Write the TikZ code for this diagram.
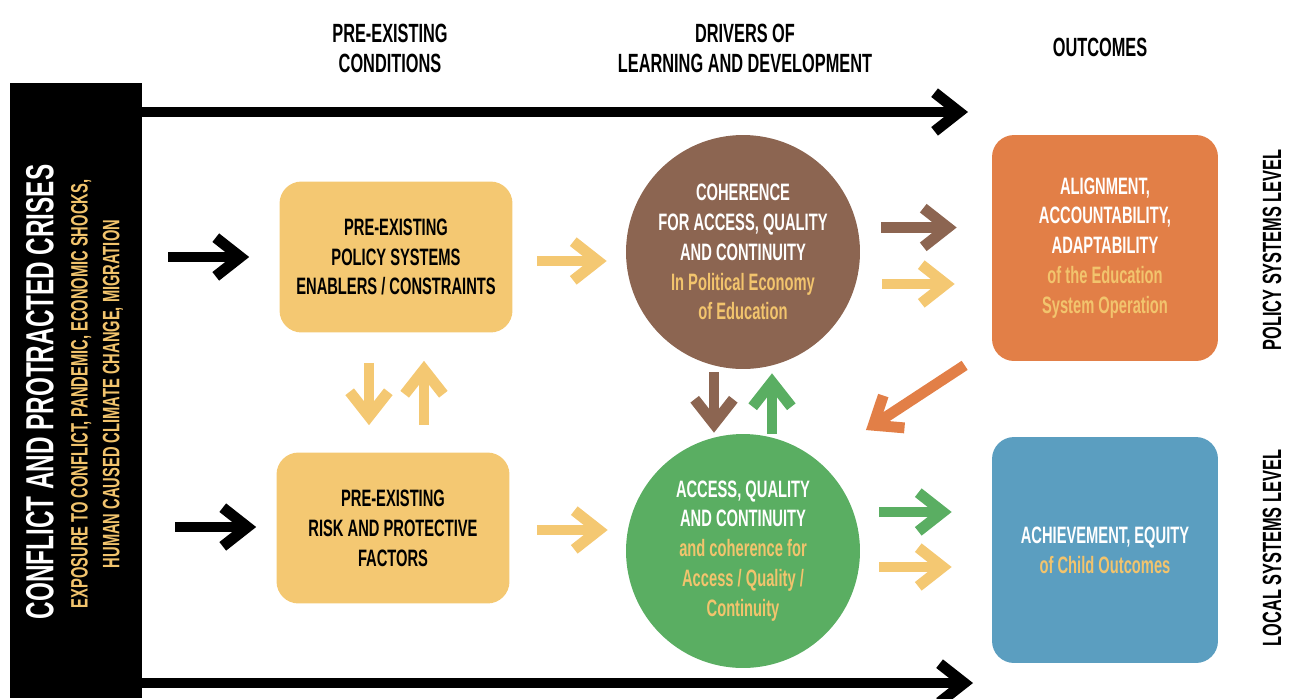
\documentclass[tikz,border=0pt]{standalone}
\usepackage{fontspec}
\setmainfont{Liberation Sans}[FakeStretch=0.62]
\usepackage{tikz}
\usetikzlibrary{arrows.meta}

\definecolor{sandc}{HTML}{F4C872}
\definecolor{goldc}{HTML}{F2C46D}
\definecolor{brownc}{HTML}{8C6551}
\definecolor{greenc}{HTML}{5AAE62}
\definecolor{orangec}{HTML}{E27F47}
\definecolor{bluec}{HTML}{5B9EC0}

\begin{document}
\begin{tikzpicture}[x=0.02cm,y=-0.02cm,
  pre box/.style={rectangle,rounded corners=0.44cm,fill=sandc,inner sep=0pt,
    minimum width=4.66cm,minimum height=3.02cm,align=center,
    font=\fontsize{13.5}{17}\selectfont\bfseries},
  driver/.style={circle,inner sep=0pt,minimum size=4.68cm,align=center,text=white,
    font=\fontsize{13.5}{17}\selectfont\bfseries},
  outcome/.style={rectangle,rounded corners=0.44cm,inner sep=0pt,
    minimum width=4.52cm,minimum height=4.52cm,align=center,text=white,
    font=\fontsize{13.5}{17}\selectfont\bfseries},
  header/.style={align=center,font=\fontsize{15}{17}\selectfont\bfseries},
  level/.style={rotate=90,font=\fontsize{15}{17}\selectfont\bfseries},
  arr/.style={line width=6.2pt,-{Straight Barb[length=14pt,width=22pt]}}]

  \useasboundingbox (0,0) rectangle (1292,698);

  % left bar
  \node[fill=black,inner sep=0pt,minimum width=2.64cm,minimum height=12.3cm]
    (crises) at (76,390.5) {};
  \node[rotate=90,text=white,font=\fontsize{22.3}{26}\selectfont\bfseries]
    (title) at (40,392) {CONFLICT AND PROTRACTED CRISES};
  \node[rotate=90,text=goldc,align=center,font=\fontsize{13.5}{18}\selectfont\bfseries]
    (exposure) at (97,394) {EXPOSURE TO CONFLICT, PANDEMIC, ECONOMIC SHOCKS,\\
    HUMAN CAUSED CLIMATE CHANGE, MIGRATION};

  % column headers
  \node[header] (hpre) at (390,48) {PRE-EXISTING\\CONDITIONS};
  \node[header] (hdrv) at (745,48) {DRIVERS OF\\LEARNING AND DEVELOPMENT};
  \node[header] (hout) at (1100,47) {OUTCOMES};

  % boxes and circles
  \node[pre box] (policy) at (396,257) {PRE-EXISTING\\POLICY SYSTEMS\\ENABLERS / CONSTRAINTS};
  \node[pre box] (risk) at (393,528) {PRE-EXISTING\\RISK AND PROTECTIVE\\FACTORS};
  \node[driver,fill=brownc] (coherence) at (743,252)
    {COHERENCE\\FOR ACCESS, QUALITY\\AND CONTINUITY\\
     \textcolor{goldc}{In Political Economy}\\\textcolor{goldc}{of Education}};
  \node[driver,fill=greenc] (access) at (743,551)
    {ACCESS, QUALITY\\AND CONTINUITY\\\textcolor{goldc}{and coherence for}\\
     \textcolor{goldc}{Access / Quality /}\\\textcolor{goldc}{Continuity}};
  \node[outcome,fill=orangec] (align) at (1105,248)
    {ALIGNMENT,\\ACCOUNTABILITY,\\ADAPTABILITY\\
     \textcolor{goldc}{of the Education}\\\textcolor{goldc}{System Operation}};
  \node[outcome,fill=bluec] (achieve) at (1105,550)
    {ACHIEVEMENT, EQUITY\\\textcolor{goldc}{of Child Outcomes}};

  \node[level] (lpol) at (1272,250) {POLICY SYSTEMS LEVEL};
  \node[level] (lloc) at (1272,548) {LOCAL SYSTEMS LEVEL};

  % long arrows
  \coordinate (topend) at (968,112);
  \coordinate (botend) at (973,683);
  \draw[arr] (crises.east |- topend) -- (topend);
  \draw[arr] (crises.east |- botend) -- (botend);

  % inputs
  \coordinate (feed1) at (168,257);
  \coordinate (feed2) at (175,527);
  \draw[arr] (feed1) -- ([shift={(-30,0)}]policy.west);
  \draw[arr] (feed2) -- ([shift={(-20,-1)}]risk.west);

  \draw[arr,sandc] ([shift={(24,4)}]policy.east) -- ([shift={(-19,9)}]coherence.west);
  \draw[arr,sandc] ([shift={(27,2)}]risk.east) -- ([shift={(-18,-21)}]access.west);
  \draw[arr,sandc] ([shift={(-27,30)}]policy.south) -- ([shift={(-24,-27)}]risk.north);
  \draw[arr,sandc] ([shift={(31,-27)}]risk.north) -- ([shift={(28,28)}]policy.south);

  \draw[arr,brownc] ([shift={(-29,3)}]coherence.south) -- ([shift={(-29,-1)}]access.north);
  \draw[arr,greenc] ([shift={(29,0)}]access.north) -- ([shift={(29,4)}]coherence.south);
  \draw[arr,orangec] ([shift={(-27,4)}]align.south west) -- ([shift={(40,-38)}]access.north east);

  \draw[arr,brownc] ([shift={(21,-24.5)}]coherence.east) -- ([shift={(-35,-20.5)}]align.west);
  \draw[arr,sandc] ([shift={(22,32)}]coherence.east) -- ([shift={(-37,36)}]align.west);
  \draw[arr,greenc] ([shift={(19,-39)}]access.east) -- ([shift={(-40,-38)}]achieve.west);
  \draw[arr,sandc] ([shift={(19,16)}]access.east) -- ([shift={(-40,17)}]achieve.west);
\end{tikzpicture}
\end{document}
